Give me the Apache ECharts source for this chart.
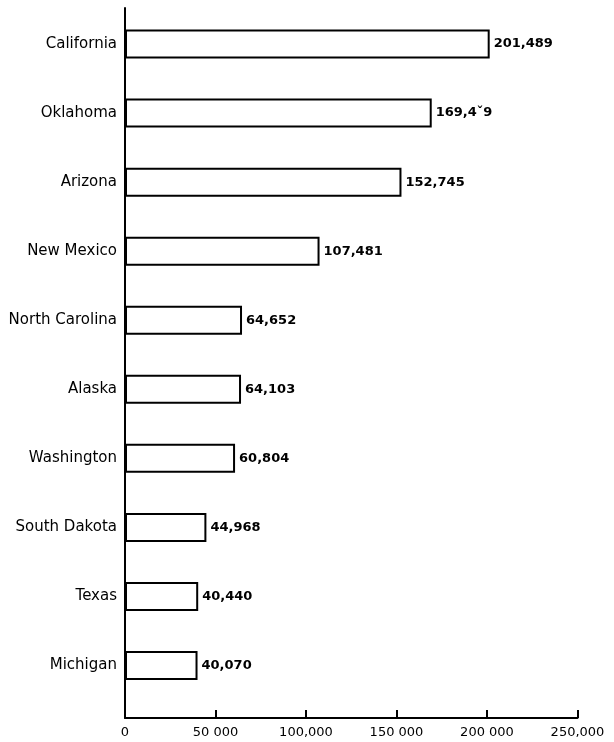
<!DOCTYPE html>
<html><head><meta charset="utf-8">
<script src="https://cdn.jsdelivr.net/npm/echarts@6/dist/echarts.min.js"></script>
<style>html,body{margin:0;padding:0;background:#fff}#c{width:614px;height:742px}</style>
</head><body><div id="c"></div>
<script>
var states = ["California","Oklahoma","Arizona","New Mexico","North Carolina","Alaska","Washington","South Dakota","Texas","Michigan"];
var population = [201489,169459,152745,107481,64652,64103,60804,44968,40440,40070];
var valueLabels = ["201,489","169,4\u02c79","152,745","107,481","64,652","64,103","60,804","44,968","40,440","40,070"];
var xTickLabels = {0:"0",50000:"50 000",100000:"100,000",150000:"150 000",200000:"200 000",250000:"250,000"};

var chart = echarts.init(document.getElementById('c'));
var font = '"DejaVu Sans", Verdana, sans-serif';
chart.setOption({
  animation:false,
  backgroundColor:'#fff',
  grid:[
    {left:125, right:36.5, top:9.5, bottom:42},
    {left:125, right:36.5, top:8, bottom:24}
  ],
  xAxis:[
    {type:'value', gridIndex:0, min:0, max:250000, interval:50000, offset:18,
     axisLine:{show:true, lineStyle:{color:'#000', width:2}},
     axisTick:{show:true, inside:true, length:8, lineStyle:{color:'#000', width:2}},
     splitLine:{show:false},
     axisLabel:{color:'#000', fontFamily:font, fontSize:13, margin:8,
       formatter:function(v){return xTickLabels[v];}}},
    {type:'value', gridIndex:1, show:false, min:0, max:1}
  ],
  yAxis:[
    {type:'category', gridIndex:0, data:states, inverse:true,
     axisLine:{show:false}, axisTick:{show:false},
     axisLabel:{color:'#000', fontFamily:font, fontSize:15, margin:8}},
    {type:'value', gridIndex:1, min:0, max:1,
     axisLine:{show:true, lineStyle:{color:'#000', width:2}},
     axisTick:{show:false}, axisLabel:{show:false}, splitLine:{show:false}}
  ],
  series:[{
    type:'bar', xAxisIndex:0, yAxisIndex:0, data:population, barWidth:29,
    itemStyle:{color:'#fff', borderColor:'#000', borderWidth:2},
    label:{show:true, position:'right', distance:4, color:'#000', fontFamily:font,
      fontSize:13, fontWeight:'bold',
      formatter:function(p){return valueLabels[p.dataIndex];}}
  }]
});
</script></body></html>
